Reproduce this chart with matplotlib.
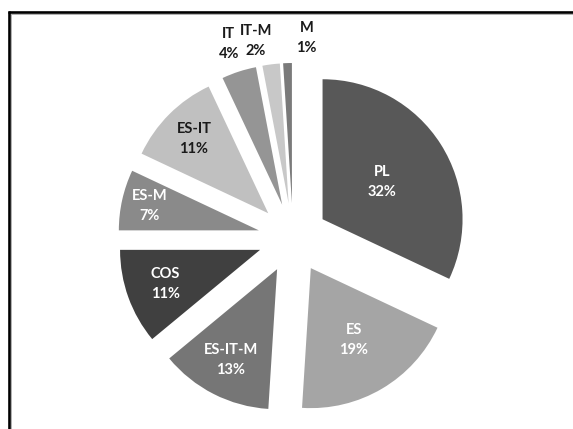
import matplotlib
matplotlib.use("Agg")
import matplotlib.pyplot as plt
import numpy as np
from matplotlib.lines import Line2D

# ---- data ----
categories = ["PL", "ES", "ES-IT-M", "COS", "ES-M", "ES-IT", "IT", "IT-M", "M"]
values = [32, 19, 13, 11, 7, 11, 4, 2, 1]

# ---- style ----
colors = ["#585858", "#a5a5a5", "#767676", "#404040", "#8a8a8a",
          "#c0c0c0", "#959595", "#c8c8c8", "#7a7a7a"]
text_colors = ["white", "white", "white", "white", "white",
               "#1a1a1a", "#1a1a1a", "#1a1a1a", "#1a1a1a"]
label_dist = [0.50, 0.60, 0.73, 0.72, 0.80, 0.75, 1.21, 1.17, 1.18]
label_shift_px = [0, 0, 0, 0, 0, 0, -1, -12, 20]

W, H = 573, 429
fig = plt.figure(figsize=(W / 100, H / 100), dpi=100)
ax = fig.add_axes([0, 0, 1, 1])

R = 140.0  # pixels per unit radius
cx, cy = 293.0, 429 - 238.0

wedges, _ = ax.pie(values, colors=colors, startangle=90, counterclock=False,
                   explode=[0.25] * len(values), radius=1,
                   wedgeprops=dict(linewidth=0))

for w, cat, v, tc, d, sh in zip(wedges, categories, values, text_colors,
                                label_dist, label_shift_px):
    mid = np.deg2rad((w.theta1 + w.theta2) / 2)
    x = w.center[0] + d * w.r * np.cos(mid)
    y = w.center[1] + d * w.r * np.sin(mid)
    ax.annotate(f"{cat}\n{v}%", xy=(x, y), xytext=(sh * 0.72, 0),
                textcoords="offset points", ha="center", va="center", color=tc,
                fontsize=10.5, fontweight="bold", family="Lato", linespacing=1.55)

ax.set_xlim(-cx / R, (W - cx) / R)
ax.set_ylim(-cy / R, (H - cy) / R)
ax.set_aspect("auto")
ax.axis("off")

# frame lines (top and left)
fig.add_artist(Line2D([8 / W, 1], [1 - 12 / H, 1 - 12 / H], transform=fig.transFigure,
                      color="black", linewidth=1.9, solid_capstyle="butt"))
fig.add_artist(Line2D([11 / W, 1], [1 - 14.3 / H, 1 - 14.3 / H], transform=fig.transFigure,
                      color="#b0b0b0", linewidth=0.7))
fig.add_artist(Line2D([9 / W, 9 / W], [0, 1 - 11 / H], transform=fig.transFigure,
                      color="black", linewidth=1.9, solid_capstyle="butt"))
fig.add_artist(Line2D([10.8 / W, 10.8 / W], [0, 1 - 14 / H], transform=fig.transFigure,
                      color="#b0b0b0", linewidth=0.7))

fig.savefig("out.png", dpi=100, facecolor="white")
